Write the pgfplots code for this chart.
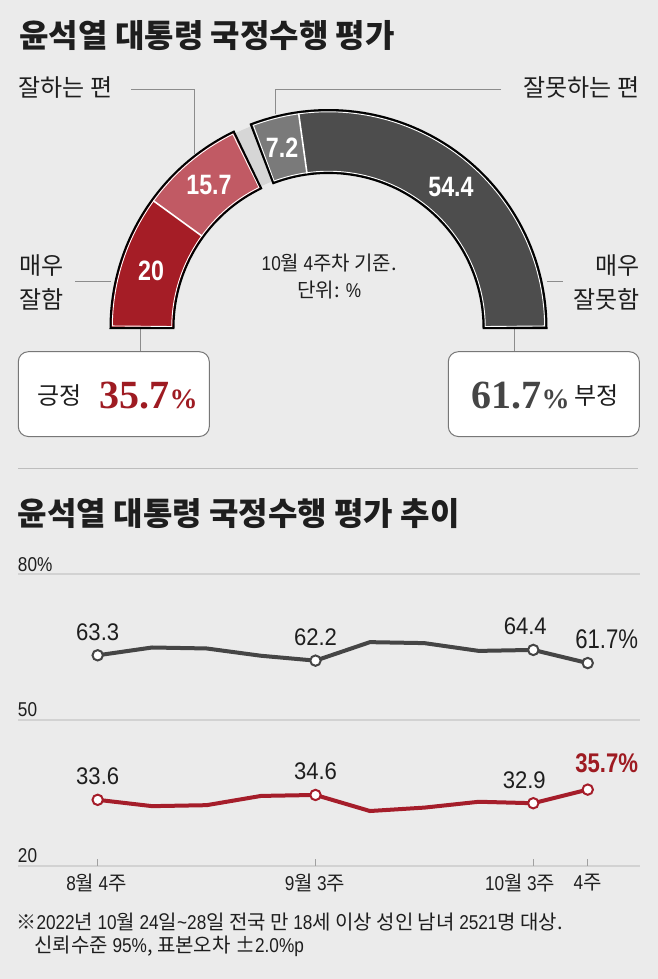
\documentclass[border=0pt]{standalone}
\usepackage{pgfplots}
\pgfplotsset{compat=1.18}
\usetikzlibrary{calc}
\usepackage{fontspec}
\setmainfont{Noto Sans CJK KR}
\newfontfamily\cond[FakeStretch=0.86]{Liberation Sans}
\newfontfamily\datafont[FakeStretch=0.92]{Liberation Sans}
\newfontfamily\lastfont[FakeStretch=0.82]{Liberation Sans}
\newfontfamily\donutfont[FakeStretch=0.83]{Liberation Sans}
\newfontfamily\bignum{Liberation Serif}
\definecolor{bgc}{HTML}{EBEBEB}
\definecolor{redA}{HTML}{A51D26}
\definecolor{redB}{HTML}{C15A64}
\definecolor{grayC}{HTML}{D6D6D6}
\definecolor{grayD}{HTML}{7A7A7A}
\definecolor{grayE}{HTML}{4D4D4D}
\definecolor{lineDark}{HTML}{454545}
\definecolor{lineRed}{HTML}{A51D2A}
\definecolor{txtRed}{HTML}{9E1B22}
\definecolor{txtDark}{HTML}{454545}
\definecolor{conn}{HTML}{8C8C8C}
\definecolor{gridc}{HTML}{D2D2D2}
\definecolor{tickc}{HTML}{A0A0A0}
\definecolor{txt}{HTML}{1E1E1E}
\newcommand{\fs}[1]{\fontsize{#1}{#1}\selectfont}
\newcommand{\C}[1]{{\cond #1}}
% donut values (percent)
\def\vA{20}\def\vB{15.7}\def\vC{2.7}\def\vD{7.2}\def\vE{54.4}
\pgfmathsetmacro{\aA}{180}
\pgfmathsetmacro{\aB}{\aA-1.8*\vA}
\pgfmathsetmacro{\aC}{\aB-1.8*\vB}
\pgfmathsetmacro{\aD}{\aC-1.8*\vC}
\pgfmathsetmacro{\aE}{\aD-1.8*\vD}
\pgfmathsetmacro{\aF}{\aE-1.8*\vE}
\pgfmathsetmacro{\mA}{(\aA+\aB)/2}
\pgfmathsetmacro{\mB}{(\aB+\aC)/2}
\pgfmathsetmacro{\mD}{(\aD+\aE)/2}
\pgfmathsetmacro{\mE}{(\aE+\aF)/2}
\pgfmathsetmacro{\iA}{\aA-0.55}
\pgfmathsetmacro{\iC}{\aC+0.55}
\pgfmathsetmacro{\iD}{\aD-0.55}
\pgfmathsetmacro{\iF}{\aF+0.55}
\newcommand{\seg}[5]{\path[#1] ($(O)+(#2:#4)$) arc[start angle=#2, end angle=#3, radius=#4] -- ($(O)+(#3:#5)$) arc[start angle=#3, end angle=#2, radius=#5] -- cycle;}
\begin{document}
\begin{tikzpicture}[x=0.5pt,y=-0.5pt, every node/.style={inner sep=0pt,outer sep=0pt}]
\useasboundingbox (0,0) rectangle (658,979);
\fill[bgc] (0,0) rectangle (658,979);
% titles
\node[anchor=west, font=\bfseries\fs{16}, text=txt] at (19.5,36) {윤석열 대통령 국정수행 평가};
\node[anchor=west, font=\bfseries\fs{16}, text=txt] at (18,514) {윤석열 대통령 국정수행 평가 추이};
% group labels and connectors
\node[anchor=west, font=\fs{12}, text=txt] at (18.5,87.5) {잘하는 편};
\node[anchor=east, font=\fs{12}, text=txt] at (639.5,87.5) {잘못하는 편};
\draw[conn, line width=0.5pt] (131,89.5) -- (194,89.5) -- (194,154);
\draw[conn, line width=0.5pt] (501,89.5) -- (275,89.5) -- (275,114);
\node[anchor=west, font=\fs{12}, text=txt] at (19.5,265.5) {매우};
\node[anchor=west, font=\fs{12}, text=txt] at (19.5,299.5) {잘함};
\node[anchor=east, font=\fs{12}, text=txt] at (640,265.5) {매우};
\node[anchor=east, font=\fs{12}, text=txt] at (639.5,299.5) {잘못함};
\draw[conn, line width=0.5pt] (75,281.7) -- (111,281.7);
\draw[conn, line width=0.5pt] (547,281.7) -- (563,281.7);
\draw[conn, line width=0.5pt] (140.7,329) -- (140.7,352);
\draw[conn, line width=0.5pt] (514,329) -- (514,352);
% center note
\node[anchor=center, font=\fs{10}, text=txt] at (329.3,263) {\C{10}월 \C{4}주차 기준.};
\node[anchor=center, font=\fs{10}, text=txt] at (329.3,290.5) {단위: \C{\%}};
% donut
\begin{axis}[hide axis, x=0.5pt, y=0.5pt, xmin=-250, xmax=250, ymin=0, ymax=250,
  at={(39.25pt,-164pt)}, anchor=south west, clip=false]
\coordinate (O) at (axis cs:0,0);
\seg{fill=grayC}{\aC}{\aD}{108pt}{78.5pt}
\seg{fill=redA}{\aA}{\aB}{109pt}{77.5pt}
\seg{fill=redB}{\aB}{\aC}{109pt}{77.5pt}
\seg{fill=grayD}{\aD}{\aE}{109pt}{77.5pt}
\seg{fill=grayE}{\aE}{\aF}{109pt}{77.5pt}
\draw[white, line width=0.8pt] ($(O)+(\aB:77.5pt)$) -- ($(O)+(\aB:109pt)$);
\draw[white, line width=0.8pt] ($(O)+(\aE:77.5pt)$) -- ($(O)+(\aE:109pt)$);
\seg{draw=white, line width=0.45pt}{\iA}{\iC}{108.1pt}{78.4pt}
\seg{draw=white, line width=0.45pt}{\iD}{\iF}{108.1pt}{78.4pt}
\seg{draw=black, line width=1pt}{\aA}{\aC}{109pt}{77.5pt}
\seg{draw=black, line width=1pt}{\aD}{\aF}{109pt}{77.5pt}
\node[text=white, font=\donutfont\bfseries\fs{14}] at ($(O)+(\mA:93.25pt)$) {20};
\node[text=white, font=\donutfont\bfseries\fs{14}] at ($(O)+(\mB:93.25pt)$) {15.7};
\node[text=white, font=\donutfont\bfseries\fs{14}] at ($(O)+(\mD:93.25pt)$) {7.2};
\node[text=white, font=\donutfont\bfseries\fs{14}] at ($(O)+(\mE:93.25pt)$) {54.4};
\end{axis}
% boxes
\draw[conn!85!black, fill=white, line width=0.5pt, rounded corners=5pt] (18.3,351.7) rectangle (209.3,436.5);
\draw[conn!85!black, fill=white, line width=0.5pt, rounded corners=5pt] (448.3,351.7) rectangle (639.3,436.5);
\node[anchor=west, font=\fs{12}, text=txt] at (37.5,395.5) {긍정};
\node[anchor=base west, text=txtRed] at (99.5,408) {\bignum\bfseries\fs{20}35.7{\fs{14}\%}};
\node[anchor=base west, text=txtDark] at (471.5,408.3) {\bignum\bfseries\fs{20}61.7{\fs{14}\%}};
\node[anchor=west, font=\fs{12}, text=txt] at (574.5,395.5) {부정};
% separator
\draw[gridc!90!black, line width=0.5pt] (18,468) -- (638,468);
% y labels
\node[anchor=base west, font=\cond\fs{10}, text=txt] at (18,571) {80\%};
\node[anchor=base west, font=\cond\fs{10}, text=txt] at (18,716.5) {50};
\node[anchor=base west, font=\cond\fs{10}, text=txt] at (18,862) {20};
% line chart
\begin{axis}[at={(9.15pt,-433pt)}, anchor=south west, scale only axis, width=310.85pt, height=146pt,
  xmin=-1.458, xmax=9.96, ymin=20, ymax=80, clip=false,
  axis line style={draw=none},
  ytick={20,50,80}, yticklabels={}, ymajorgrids, ytick style={draw=none},
  major grid style={draw=gridc, line width=0.8pt},
  xtick={0,4,8,9}, xticklabels={}, xtick pos=left, tick align=inside,
  xtick style={draw=tickc, line width=0.5pt}, major tick length=3.5pt]
\addplot[lineDark, line width=2pt, mark=*, mark indices={1,5,9,10}, mark size=2.6pt,
  mark options={fill=white, draw=lineDark, line width=1pt, solid}]
  coordinates {(0,63.3)(1,64.9)(2,64.7)(3,63.2)(4,62.2)(5,66.0)(6,65.8)(7,64.2)(8,64.4)(9,61.7)};
\addplot[lineRed, line width=2pt, mark=*, mark indices={1,5,9,10}, mark size=2.6pt,
  mark options={fill=white, draw=lineRed, line width=1pt, solid}]
  coordinates {(0,33.6)(1,32.3)(2,32.5)(3,34.4)(4,34.6)(5,31.3)(6,32.0)(7,33.2)(8,32.9)(9,35.7)};
\node[anchor=base, yshift=7.5pt, font=\datafont\fs{12}, text=txt] at (axis cs:0,63.3) {63.3};
\node[anchor=base, yshift=7.5pt, font=\datafont\fs{12}, text=txt] at (axis cs:4,62.2) {62.2};
\node[anchor=base, yshift=7.5pt, xshift=-4pt, font=\datafont\fs{12}, text=txt] at (axis cs:8,64.4) {64.4};
\node[anchor=base, yshift=7.5pt, xshift=9.5pt, font=\lastfont\fs{13.5}, text=txt] at (axis cs:9,61.7) {61.7\%};
\node[anchor=base, yshift=7.5pt, font=\datafont\fs{12}, text=txt] at (axis cs:0,33.6) {33.6};
\node[anchor=base, yshift=7.5pt, font=\datafont\fs{12}, text=txt] at (axis cs:4,34.6) {34.6};
\node[anchor=base, yshift=7.5pt, xshift=-4.5pt, font=\datafont\fs{12}, text=txt] at (axis cs:8,32.9) {32.9};
\node[anchor=base, yshift=8.5pt, xshift=9.5pt, font=\lastfont\bfseries\fs{13.5}, text=txtRed] at (axis cs:9,35.7) {35.7\%};
\end{axis}
% x tick labels
\node[anchor=center, font=\fs{10}, text=txt] at (96.5,883) {\C{8}월 \C{4}주};
\node[anchor=center, font=\fs{10}, text=txt] at (315,883) {\C{9}월 \C{3}주};
\node[anchor=center, font=\fs{10}, text=txt] at (520,883) {\C{10}월 \C{3}주};
\node[anchor=center, font=\fs{10}, text=txt] at (587.5,883) {\C{4}주};
% footnote
\node[anchor=west, font=\fs{10}, text=txt] at (16.5,922) {※\C{2022}년 \C{10}월 \C{24}일\C{\textasciitilde28}일 전국 만 \C{18}세 이상 성인 남녀 \C{2521}명 대상.};
\node[anchor=west, font=\fs{10}, text=txt] at (34.5,946.5) {신뢰수준 \C{95\%}, 표본오차 ±\C{2.0\%p}};
\end{tikzpicture}
\end{document}
